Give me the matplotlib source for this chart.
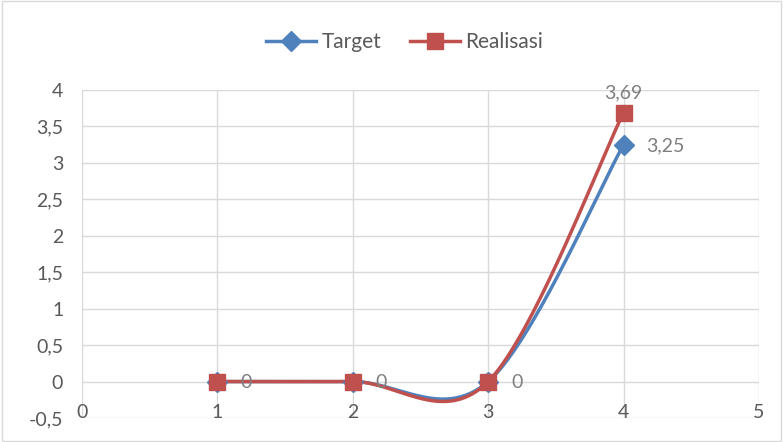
import numpy as np
import matplotlib.pyplot as plt
import matplotlib.patches as mpatches

plt.rcParams["font.family"] = ["Lato", "DejaVu Sans"]

TARGET_COLOR = "#4F81BD"
REAL_COLOR = "#C0504D"
GRID_COLOR = "#D9D9D9"
TEXT_COLOR = "#595959"
LABEL_COLOR = "#7F7F7F"

x_vals = [1, 2, 3, 4]
target = [0, 0, 0, 3.25]
realisasi = [0, 0, 0, 3.69]
target_labels = ["0", "0", "0", "3,25"]
real_labels = ["", "", "", "3,69"]
x_ticks = [0, 1, 2, 3, 4, 5]
y_ticks = [-0.5, 0, 0.5, 1, 1.5, 2, 2.5, 3, 3.5, 4]


def fmt(v):
    return ("%g" % v).replace(".", ",")


def smooth(xs, ys, n=60):
    # Bezier smoothing, close to what Excel does for "smoothed line"
    pts = np.column_stack([xs, ys]).astype(float)
    out = []
    for i in range(len(pts) - 1):
        p0 = pts[i - 1] if i > 0 else pts[i]
        p1, p2 = pts[i], pts[i + 1]
        p3 = pts[i + 2] if i + 2 < len(pts) else pts[i + 1]
        c1 = p1 + (p2 - p0) / 6
        c2 = p2 - (p3 - p1) / 6
        t = np.linspace(0, 1, n)[:, None]
        seg = ((1 - t) ** 3) * p1 + 3 * ((1 - t) ** 2) * t * c1 + 3 * (1 - t) * t ** 2 * c2 + t ** 3 * p2
        out.append(seg)
    out = np.vstack(out)
    return out[:, 0], out[:, 1]


fig = plt.figure(figsize=(7.83, 4.42), dpi=100)
ax = fig.add_axes([82 / 783, 1 - 418 / 442, (759 - 82) / 783, (418 - 90) / 442])

ax.set_xlim(0, 5)
ax.set_ylim(-0.5, 4)
for s in ax.spines.values():
    s.set_visible(False)
ax.set_xticks(x_ticks)
ax.set_yticks(y_ticks)
ax.grid(True, color=GRID_COLOR, lw=1.0)
ax.set_axisbelow(True)
ax.tick_params(length=0, labelsize=14, colors=TEXT_COLOR, pad=13.5)
ax.set_yticklabels([fmt(v) for v in y_ticks])
ax.set_xticklabels([])
# x labels sit just above the bottom gridline
for v in x_ticks:
    ax.text(v, -0.42, fmt(v), ha="center", va="center", fontsize=14, color=TEXT_COLOR)

sx, sy = smooth(x_vals, target)
ax.plot(sx, sy, color=TARGET_COLOR, lw=2.5, solid_capstyle="round", zorder=3)
ax.plot(x_vals, target, ls="none", marker="D", ms=10, color=TARGET_COLOR, zorder=4)

rx, ry = smooth(x_vals, realisasi)
ax.plot(rx, ry, color=REAL_COLOR, lw=2.5, solid_capstyle="round", zorder=3)
ax.plot(x_vals, realisasi, ls="none", marker="s", ms=11, color=REAL_COLOR, zorder=4)

for xv, yv, lab in zip(x_vals, target, target_labels):
    ax.annotate(lab, (xv, yv), xytext=(16.5, -1), textcoords="offset points",
                ha="left", va="center", fontsize=14, color=LABEL_COLOR, zorder=5)
for xv, yv, lab in zip(x_vals, realisasi, real_labels):
    if lab:
        ax.annotate(lab, (xv, yv), xytext=(0, 14.5), textcoords="offset points",
                    ha="center", va="center", fontsize=14, color=LABEL_COLOR, zorder=5)

h1, = ax.plot([], [], color=TARGET_COLOR, lw=2.5, marker="D", ms=10)
h2, = ax.plot([], [], color=REAL_COLOR, lw=2.5, marker="s", ms=11)
fig.legend([h1, h2], ["Target", "Realisasi"], loc="center", bbox_to_anchor=(0.517, 1 - 42 / 442),
           ncol=2, frameon=False, fontsize=15, handlelength=2.4, handletextpad=0.25,
           columnspacing=1.4, labelcolor=TEXT_COLOR)

fig.patches.append(mpatches.Rectangle((0.002, 0.003), 0.996, 0.994, transform=fig.transFigure,
                                      fill=False, edgecolor=GRID_COLOR, lw=1.0))

fig.savefig("out.png", dpi=100)
